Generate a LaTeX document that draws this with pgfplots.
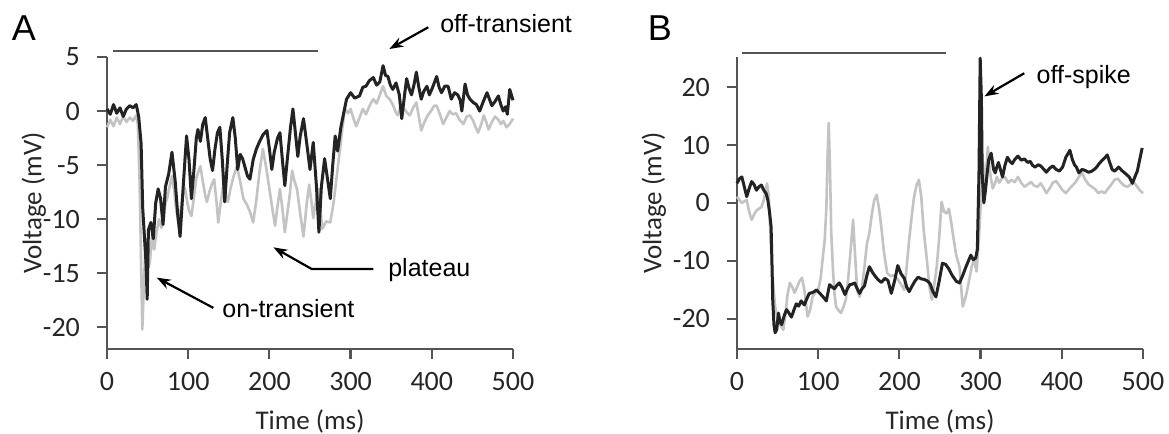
\documentclass[border=0pt]{standalone}
\usepackage{fontspec}
\setmainfont{Carlito}
\newfontfamily\arialfont{Liberation Sans}
\usepackage{pgfplots}
\pgfplotsset{compat=1.18}
\usetikzlibrary{arrows.meta}

\definecolor{trace}{RGB}{35,35,35}
\definecolor{tracegray}{RGB}{195,195,195}
\definecolor{axisgray}{RGB}{85,85,85}

\pgfplotsset{
  traceax/.style={
    scale only axis, width=203pt, height=146pt,
    axis lines=left, axis line style={-, axisgray, line width=1.1pt},
    tick style={axisgray, line width=1.1pt},
    tick align=outside, major tick length=5pt,
    xmin=0, xmax=500, xtick={0,100,...,500},
    clip=false,
    /pgf/number format/assume math mode=true,
    tick label style={font=\fontsize{14}{14}\selectfont, text=black!85},
    yticklabel style={xshift=-5pt},
    xticklabel style={yshift=-3pt},
    label style={font=\fontsize{13.5}{14}\selectfont, text=black!85},
    xlabel={Time (ms)}, ylabel={Voltage (mV)},
    xlabel style={at={(axis description cs:0.5,0)}, yshift=-36pt, anchor=center},
  },
}
\tikzset{
  annot/.style={font=\arialfont\fontsize{12.5}{13}\selectfont, anchor=west, inner sep=0pt},
  arr/.style={-{Stealth[length=7pt,width=5pt]}, line width=1.1pt, black},
  blacktr/.style={trace, line width=1.5pt, line join=round},
  graytr/.style={tracegray, line width=1.3pt, line join=round},
  stim/.style={axisgray, line width=1pt},
}

\begin{document}
\begin{tikzpicture}
\useasboundingbox (-53.5pt,-42.5pt) rectangle (531pt,174.5pt);

% ---------- panel A ----------
\begin{axis}[traceax, at={(0,0)}, anchor=south west,
  ymin=-22, ymax=5, ytick={-20,-15,...,5},
  ylabel style={at={(axis description cs:-0.18,0.5)}, anchor=center}]
\addplot[graytr] coordinates {
(0,-1.5) (4,-0.8) (8,-1.4) (12,-0.6) (16,-1.2) (20,-0.5) (24,-1.0) (28,-0.6) (32,-0.9) (36,-0.4)
(38,-1.2) (40,-6) (42,-14) (43.5,-20.2) (45,-17) (47,-13) (49,-11.8) (51,-14.5) (53,-13.8) (56,-11)
(58,-12.8) (61,-11.2) (64,-10) (67,-10.8) (70,-9.9) (72,-8.5) (74,-8.1) (77,-7) (80,-6.0) (83,-7.5)
(85,-9) (88,-10.3) (91,-9) (94,-7.5) (96,-7.1) (99,-8.5) (101,-9.2) (104,-9.7) (107,-8) (110,-6.2)
(113,-5.5) (115,-5.1) (118,-6.5) (121,-7.8) (123,-8.4) (126,-7.5) (129,-6.8) (132,-6.3) (135,-8.5) (137,-10.3)
(140,-8.5) (143,-6.9) (146,-7.6) (149,-8.4) (152,-7.2) (156,-6) (160,-5.1) (164,-6.5) (168,-8.1) (172,-8.6)
(176,-9.3) (180,-10.3) (184,-8.2) (188,-5.5) (192,-3.5) (196,-5.2) (200,-7.2) (204,-9.2) (207,-10.6) (210,-8.8)
(213,-7.2) (216,-9) (219,-11.2) (222,-9.5) (225,-7.8) (228,-5.5) (231,-6.5) (234,-7.2) (238,-9.5) (242,-11.6)
(246,-8.5) (249,-6.8) (252,-8.5) (254,-9.9) (258,-8) (261,-7.2) (265,-10.9) (270,-10.2) (275,-10.3) (279,-8.5)
(283,-6) (287,-3.5) (290,-1.5) (293,0.2) (297,-0.2) (300,0.2) (304,-0.8) (307,-1.4) (311,-0.6) (315,0.2)
(319,-0.3) (324,0.6) (328,1.1) (332,0.7) (336,1.5) (340,2.3) (344,1.4) (348,1.1) (352,0.6) (355,0)
(358,-0.4) (362,0.5) (366,0.2) (370,-0.2) (373,-0.4) (377,0.3) (381,0.8) (384,-0.5) (387,-1.8) (391,-1.0)
(395,-0.4) (399,0) (403,0.5) (406,0.5) (410,-0.3) (414,-1.2) (418,-0.6) (422,0) (426,-0.3) (430,-0.2)
(434,-0.8) (439,-1.2) (443,-0.5) (447,-0.4) (451,-0.9) (454,-1.5) (457,-2) (461,-1.2) (464,-0.4) (467,-1.0)
(470,-1.7) (474,-1.0) (478,-0.5) (482,-0.8) (485,-1.2) (488,-0.9) (492,-1.5) (496,-1.2) (500,-0.7)
};
\addplot[blacktr] coordinates {
(0,0.2) (4,-0.3) (8,0.6) (12,-0.2) (16,0.3) (20,-0.5) (24,0.2) (28,0.5) (32,0.3) (36,0.6)
(39,-0.5) (42,-3) (44,-9) (46,-11.5) (48,-14) (49.5,-17.4) (51,-11) (54,-10.3) (57,-11.8) (60,-8.5)
(63,-7.2) (66,-8.1) (69,-10.5) (72,-7) (76,-5.8) (80,-3.8) (84,-6.5) (87,-9.5) (90,-11.6) (93,-8)
(96,-4.5) (98,-2.3) (101,-4.5) (104,-8.1) (107,-5.5) (110,-2.5) (112,-1.7) (115,-2.8) (118,-1.2) (121,-0.6)
(124,-2.5) (127,-4.4) (130,-5.5) (133,-3.5) (136,-2) (139,-1.5) (142,-4.5) (145,-8.4) (148,-5) (151,-2)
(155,-0.6) (158,-2.5) (161,-5.4) (164,-4) (167,-4.4) (170,-5.2) (173,-6) (176,-6.3) (180,-4.5) (184,-3.5)
(188,-2.8) (192,-2.2) (197,-1.8) (200,-3.5) (203,-5.4) (206,-3.8) (210,-2.5) (213,-2) (216,-4.5) (219,-6.9)
(222,-4.5) (226,-1.5) (229,0.2) (232,-2) (235,-4.2) (238,-2.3) (242,-0.7) (246,-3) (250,-5.4) (254,-2.9)
(258,-7) (261,-11.2) (264,-7) (268,-4.4) (272,-6.5) (275,-8.1) (278,-5) (281,-2.3) (284,-3.7) (288,-1.5)
(292,0) (295,1.1) (300,1.7) (305,1.2) (311,1.4) (315,2.2) (319,2.3) (323,2.8) (328,3.1) (332,2.4)
(336,2.7) (340,4.2) (343,3.3) (346,3.2) (349,2.4) (352,2.0) (356,2.6) (360,1.5) (363,-0.7) (366,1.2)
(369,3.0) (372,2.1) (375,1.5) (378,2.4) (381,3.6) (384,2.2) (387,1.1) (390,1.8) (394,2.3) (397,1.5)
(400,2.0) (403,2.6) (406,3.2) (409,2.2) (412,1.7) (416,2.3) (420,2.3) (424,1.1) (428,1.7) (432,1.5)
(435,1.0) (437,0) (441,2.5) (444,1.5) (447,1.1) (451,0.8) (455,0.6) (459,0) (463,0.8) (468,1.7)
(471,1.1) (474,0.5) (478,0.9) (482,1.4) (485,0.6) (488,0) (491,0.4) (493,-0.3) (496,2) (500,1)
};
% stimulus bar
\addplot[stim] coordinates {(7,5.6) (260,5.6)};
% annotations
\draw[arr] (axis cs:395.7,7.75) -- (axis cs:347.7,5.74);
\node[annot] at (axis cs:410,8.06) {off-transient};
\draw[arr] (axis cs:328,-14.6) -- (axis cs:252,-14.6) -- (axis cs:205,-12.6);
\node[annot] at (axis cs:346,-14.7) {plateau};
\draw[arr] (axis cs:131,-18.2) -- (axis cs:61.2,-15.4);
\node[annot] at (axis cs:141.6,-18.3) {on-transient};
\node[font=\arialfont\fontsize{18}{18}\selectfont, inner sep=0pt] at (axis description cs:0,1) [xshift=-41.5pt, yshift=14.5pt] {A};
\end{axis}

% ---------- panel B ----------
\begin{axis}[traceax, at={(315pt,0)}, anchor=south west,
  ymin=-25.2, ymax=25.2, ytick={-20,-10,...,20},
  ylabel style={at={(axis description cs:-0.205,0.5)}, anchor=center}]
\addplot[graytr] coordinates {
(0,1.1) (3,0.5) (6,0) (9,0.3) (12,0.5) (15,-1.5) (18,-2.9) (21,-2) (24,-1.3) (27,-1.0)
(30,-0.7) (33,0.5) (37,3.4) (39,1.5) (42,-8.1) (44,-13) (47,-17.9) (50,-20) (53,-21) (57,-21.9)
(60,-19) (62,-16) (65,-13.8) (68,-14.5) (71,-15.5) (74,-14.5) (77,-13.5) (80,-12.9) (83,-15) (85,-17.5)
(87,-19.6) (90,-18.5) (93,-16.2) (96,-15.5) (100,-15) (103,-13) (106,-9) (108,-6.4) (110,-1) (111.5,8)
(113,13.8) (114.5,6) (116,-4.8) (118,-11) (120,-15.5) (122,-17.9) (125,-18.5) (128,-19) (131,-18) (134,-16.7)
(137,-13) (140,-8) (143,-2.9) (145,-8) (148,-15.1) (151,-16.2) (154,-14.5) (157,-11) (160,-7) (163,-5.2)
(166,-2) (169,0.5) (172,1.4) (175,-1) (178,-4.5) (181,-8.5) (185,-12.1) (189,-12.6) (193,-12.5) (197,-13)
(201,-13.8) (206,-15) (209,-11) (212,-6.4) (215,-2.5) (218,1) (221,3) (224,4) (227,1) (230,-4.8)
(234,-10) (237,-14.5) (240,-16.7) (243,-14) (246,-11) (249,-6) (252,0.2) (255,-1.5) (258,-1.8) (261,-1.0)
(264,-3.5) (267,-6.4) (270,-9) (274,-11) (278,-17.9) (282,-16) (285,-14) (289,-11) (292,-9.8) (295,-11.8)
(298,-6) (301,2) (303,7) (305,3.4) (307,6) (309,9.7) (311,6) (313,4) (315,2.5) (318,3.5)
(320,4.5) (323,3.5) (326,4.2) (330,4.5) (334,3.5) (338,4.0) (342,3.6) (346,4.5) (350,3.5) (354,2.8)
(358,3.2) (362,3.6) (366,3.0) (370,2.8) (374,3.4) (378,2.5) (381,1.7) (385,2.5) (389,3.5) (393,3.8)
(397,3.0) (401,2.2) (405,1.7) (409,2.4) (413,3.0) (417,3.6) (421,4.5) (425,5.2) (429,4.0) (433,3.2)
(437,2.8) (441,2.4) (445,1.7) (449,2.0) (453,1.7) (457,2.5) (461,3.2) (465,4.0) (469,4.2) (473,3.5)
(477,3.0) (481,2.8) (485,3.2) (489,3.5) (493,2.8) (496,2.2) (500,1.7)
};
\addplot[blacktr] coordinates {
(0,3.4) (3,4.2) (6,4.5) (9,2.8) (12,1.1) (15,2.5) (18,3.7) (21,3.2) (24,2.2) (27,2.8)
(30,3.1) (33,2.2) (36,1.6) (38,0.5) (40,-1.5) (42,-4.1) (43,-10) (44,-16.7) (45.5,-21) (47,-22.4)
(49,-21.8) (51,-19) (53,-20.5) (55,-21) (58,-19.5) (61,-18.4) (64,-19) (67,-19.7) (70,-18.5) (73,-17.4)
(76,-17.8) (79,-16.9) (83,-17.6) (86,-16.5) (89,-15.6) (92,-15.5) (95,-15.3) (98,-15.0) (102,-15.6) (106,-16.2)
(110,-16.9) (114,-14.1) (117,-14.5) (120,-14.8) (123,-14.2) (126,-13.8) (129,-14.5) (133,-15.8) (136,-14.8) (139,-14.1)
(142,-14.0) (145,-13.8) (148,-14.8) (151,-15.6) (154,-14.8) (157,-14.3) (160,-12.5) (163,-11) (167,-12) (171,-12.8)
(175,-13.4) (178,-13.7) (182,-13) (186,-13.4) (190,-15.6) (194,-13.5) (198,-10.8) (202,-12.2) (206,-13) (209,-14.5)
(212,-15.3) (215,-14.5) (219,-13.5) (223,-12.8) (227,-13.1) (231,-13.2) (235,-13.5) (238,-14) (241,-15.2) (245,-16.2)
(249,-13.5) (253,-10.4) (257,-10.6) (261,-11.4) (265,-12.5) (270,-13.5) (274,-13.8) (278,-12.5) (282,-11) (285,-10)
(288,-9) (291,-9.8) (294,-9.5) (296,-8) (298,5) (299.5,25) (301,18) (302,5) (304,0) (306,2.2)
(308,5) (310,7.5) (313,8.6) (316,5.8) (318,5.2) (320,6.2) (322,7) (325,5.5) (327,4.5) (330,6.5)
(333,7.9) (336,7.2) (339,6.8) (342,7.5) (346,8.1) (350,7.4) (354,7.6) (358,7.0) (361,7.2) (364,6.5)
(367,6.2) (371,6.6) (374,6.4) (378,5.8) (381,5.3) (385,6.0) (389,6.4) (393,5.8) (397,5.5) (401,6.2)
(405,7.9) (408,8.6) (410,9.1) (413,7.5) (416,6.5) (418,6.2) (421,5.2) (425,5.8) (429,5.6) (433,5.3)
(437,5.5) (440,5.8) (443,6.2) (446,6.8) (450,7.4) (453,7.8) (456,8.3) (459,7.0) (462,5.8) (465,5.5)
(468,5.9) (470,6.2) (474,5.6) (479,5.0) (483,4.5) (487,3.4) (490,4.5) (493,5.5) (496,7.5) (499,9.5)
};
\addplot[stim] coordinates {(6,25.9) (257,25.9)};
\draw[arr] (axis cs:353.8,22.4) -- (axis cs:304.7,18.4);
\node[annot] at (axis cs:368.6,21.8) {off-spike};
\node[font=\arialfont\fontsize{18}{18}\selectfont, inner sep=0pt] at (axis description cs:0,1) [xshift=-38.5pt, yshift=14.5pt] {B};
\end{axis}
\end{tikzpicture}
\end{document}
